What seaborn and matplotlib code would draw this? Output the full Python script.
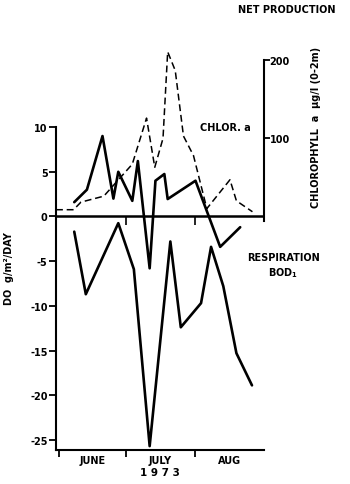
import matplotlib
matplotlib.use("Agg")
import matplotlib.pyplot as plt
import seaborn as sns
import pandas as pd

# Days since June 1, 1973
chl_day = [-1.5, 6.4, 9.7, 20.0, 32.8, 39.2, 42.9, 46.6, 48.7, 52.1, 55.8, 60.3, 66.3, 76.7, 79.6, 86.8]
chl_val = [8.6, 8.6, 18.3, 26.0, 67.0, 126.0, 63.0, 100.0, 211.0, 187.0, 103.0, 78.0, 10.0, 47.0, 20.0, 6.0]

net_day = [6.7, 12.4, 19.4, 24.3, 26.5, 32.8, 35.3, 40.6, 43.2, 47.2, 48.7, 61.2, 72.3, 81.3]
net_val = [1.6, 3.0, 9.0, 2.0, 5.0, 1.75, 6.2, -5.8, 4.0, 4.75, 1.95, 4.0, -3.4, -1.2]

resp_day = [6.7, 11.9, 26.5, 33.5, 40.6, 49.9, 54.6, 63.7, 68.2, 73.7, 79.6, 86.6]
resp_val = [-1.7, -8.7, -0.75, -5.9, -25.7, -2.8, -12.4, -9.7, -3.4, -7.8, -15.3, -18.9]

month_edges = [0, 30, 61]
month_mids = [15, 45.5, 76.5]
month_labels = ["JUNE", "JULY", "AUG"]
left_ticks = [-25, -20, -15, -10, -5, 0, 5, 10]
right_ticks = [100, 200]

sns.set_style("white")
plt.rcParams["font.family"] = ["DejaVu Sans"]
plt.rcParams["font.weight"] = "bold"
for k in ["text.color", "axes.labelcolor", "xtick.color", "ytick.color", "axes.edgecolor"]:
    plt.rcParams[k] = "black"

W, H = 350, 485
fig = plt.figure(figsize=(W / 100, H / 100), dpi=100)
ax = fig.add_axes([56 / W, 34.3 / H, (264 - 56) / W, (450.7 - 45) / H])
ax.set_facecolor("white")

net_df = pd.DataFrame({"day": net_day, "val": net_val})
resp_df = pd.DataFrame({"day": resp_day, "val": resp_val})
chl_df = pd.DataFrame({"day": chl_day, "val": chl_val})

sns.lineplot(data=net_df, x="day", y="val", ax=ax, color="black", lw=1.9,
             estimator=None, sort=False)
sns.lineplot(data=resp_df, x="day", y="val", ax=ax, color="black", lw=1.9,
             estimator=None, sort=False)

ax.set_xlim(-1.5, 92)
ax.set_ylim(-26.1, 19.3)
ax.axhline(0, color="black", lw=1.8)
ax.vlines(month_edges[1:], -0.9, 0, color="black", lw=1.2)

for s in ["top", "right"]:
    ax.spines[s].set_visible(False)
ax.spines["left"].set_bounds(-26.1, 10)
ax.spines["left"].set_linewidth(1.5)
ax.spines["bottom"].set_linewidth(1.5)

ax.set_yticks(left_ticks)
ax.set_yticklabels([str(t) for t in left_ticks], fontsize=7, fontweight="bold")
ax.tick_params(axis="y", direction="out", length=5, width=1.3, pad=1, left=True)

ax.set_xticks(month_edges)
ax.set_xticklabels([])
ax.set_xticks(month_mids, minor=True)
ax.set_xticklabels(month_labels, minor=True, fontsize=7, fontweight="bold")
ax.tick_params(axis="x", which="major", direction="out", length=5, width=1.3, bottom=True)
ax.tick_params(axis="x", which="minor", length=0, pad=4)
ax.set_xlabel("1 9 7 3", fontsize=7.5, fontweight="bold", labelpad=1)
ax.set_ylabel("DO  g/m²/DAY", fontsize=7, fontweight="bold")
ax.yaxis.set_label_coords(-0.2, 0.45)

ax2 = ax.twinx()
sns.lineplot(data=chl_df, x="day", y="val", ax=ax2, color="black", lw=1.1,
             estimator=None, sort=False, linestyle=(0, (4.5, 2.5)))
ax2.set_ylim(-299, 221)
ax2.set_xlim(-1.5, 92)
for s in ["top", "left", "bottom"]:
    ax2.spines[s].set_visible(False)
ax2.spines["right"].set_bounds(-6, 200)
ax2.spines["right"].set_linewidth(1.5)
ax2.set_yticks(right_ticks)
ax2.set_yticklabels([str(t) for t in right_ticks], fontsize=7, fontweight="bold")
ax2.tick_params(axis="y", direction="out", length=4, width=1.3, pad=0, right=True)
ax2.set_ylabel("CHLOROPHYLL  a  µg/l (0-2m)", fontsize=7, fontweight="bold")
ax2.yaxis.set_label_coords(1.225, 0.798)

fig.text(287 / W, 1 - 10 / H, "NET PRODUCTION", ha="center", va="center",
         fontsize=7, fontweight="bold")
fig.text(225 / W, 1 - 128 / H, "CHLOR. a", ha="center", va="center",
         fontsize=7, fontweight="bold")
fig.text(283 / W, 1 - 258 / H, "RESPIRATION", ha="center", va="center",
         fontsize=7, fontweight="bold")
fig.text(283 / W, 1 - 273 / H, "BOD$_1$", ha="center", va="center",
         fontsize=7, fontweight="bold")

fig.savefig("out.png", dpi=100, facecolor="white")
